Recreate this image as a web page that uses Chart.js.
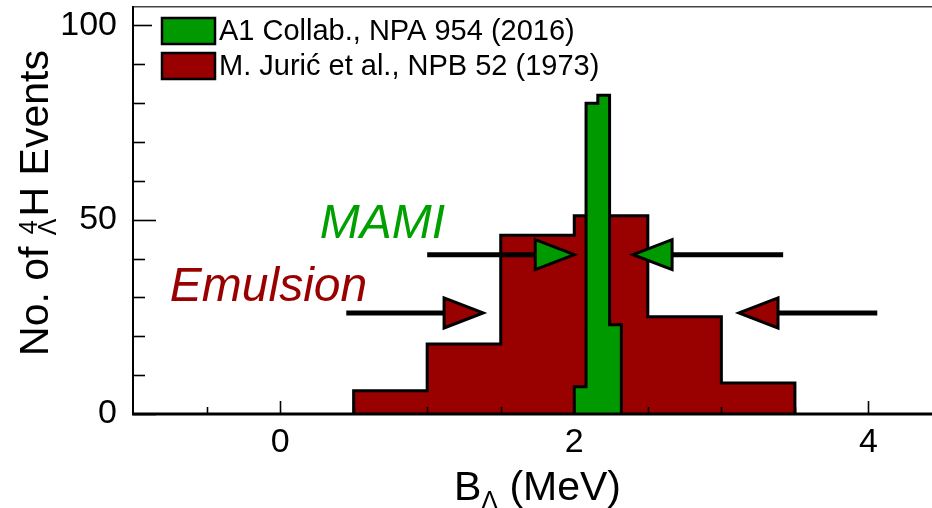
<!DOCTYPE html>
<html>
<head>
<meta charset="utf-8">
<script src="https://cdn.jsdelivr.net/npm/chart.js@4.4.1/dist/chart.umd.min.js"></script>
<style>
  html, body { margin: 0; padding: 0; overflow: hidden; background: #fff; }
  canvas { display: block; }
</style>
</head>
<body>
<canvas id="c" width="944" height="508"></canvas>
<script>
// Λ binding energy of the 4ΛH hypernucleus: MAMI spectrometer vs. emulsion data

const seriesLabels = ['A1 Collab., NPA 954 (2016)', 'M. Juri\u0107 et al., NPB 52 (1973)'];

// MAMI (A1) histogram: bin edges in MeV and counts per bin
const mamiEdges  = [2.00, 2.08, 2.16, 2.24, 2.32];
const mamiCounts = [7, 80, 82, 23];

// Emulsion histogram
const emulsionEdges  = [0.5, 1.0, 1.5, 2.0, 2.5, 3.0, 3.5];
const emulsionCounts = [6, 18, 46, 51, 25, 8];

// Arrows: horizontal level (events), tail and tip positions (MeV)
const mamiArrowLevel = 41;
const mamiArrowTails = [1.00, 3.42];
const mamiArrowTips  = [2.00, 2.40];
const emulsionArrowLevel = 26;
const emulsionArrowTails = [0.45, 4.06];
const emulsionArrowTips  = [1.38, 3.12];

// In-plot labels and their anchor points (MeV, events)
const annotationTexts = ['MAMI', 'Emulsion'];
const annotationX = [0.27, -0.75];
const annotationY = [45.4, 29];

// Axis ticks
const xTickValues  = [-0.5, 0, 0.5, 1, 1.5, 2, 2.5, 3, 3.5, 4];
const xLabelValues = [0, 2, 4];
const yTickValues  = [0, 10, 20, 30, 40, 50, 60, 70, 80, 90, 100];
const yLabelValues = [0, 50, 100];

const GREEN = '#009a00';
const RED = '#990000';
const TEXT_GREEN = '#00a000';
const FONT = '"Liberation Sans", Arial, Helvetica, sans-serif';

// Outline of a histogram as a stepped polyline closed down to zero
function histPoints(edges, counts) {
  const pts = [{ x: edges[0], y: 0 }];
  counts.forEach((c, i) => pts.push({ x: edges[i], y: c }));
  pts.push({ x: edges[edges.length - 1], y: counts[counts.length - 1] });
  pts.push({ x: edges[edges.length - 1], y: 0 });
  return pts;
}

function histDataset(label, edges, counts, color) {
  return {
    label,
    data: histPoints(edges, counts),
    stepped: true,
    fill: 'origin',
    backgroundColor: color,
    borderColor: '#000',
    borderWidth: 3,
    borderJoinStyle: 'miter',
    pointRadius: 0,
    tension: 0
  };
}

function drawArrow(ctx, xs, ys, tail, tip, level, fill) {
  const py = ys.getPixelForValue(level);
  const pTail = xs.getPixelForValue(tail);
  const pTip = xs.getPixelForValue(tip);
  const dir = Math.sign(pTip - pTail);
  const headLen = 39, headHalf = 15;
  const base = pTip - dir * headLen;
  ctx.strokeStyle = '#000';
  ctx.lineWidth = 5;
  ctx.lineCap = 'butt';
  ctx.beginPath();
  ctx.moveTo(pTail, py);
  ctx.lineTo(base, py);
  ctx.stroke();
  ctx.beginPath();
  ctx.moveTo(pTip, py);
  ctx.lineTo(base, py - headHalf);
  ctx.lineTo(base, py + headHalf);
  ctx.closePath();
  ctx.fillStyle = fill;
  ctx.fill();
  ctx.lineWidth = 3;
  ctx.lineJoin = 'miter';
  ctx.stroke();
}

const decor = {
  id: 'decor',
  afterDatasetsDraw(chart) {
    const { ctx, chartArea: a, scales: { x, y } } = chart;
    ctx.save();

    // tick marks pointing into the frame
    ctx.strokeStyle = '#000';
    ctx.lineWidth = 1.6;
    x.ticks.forEach(t => {
      const px = Math.round(x.getPixelForValue(t.value)) + 0.5;
      const len = xLabelValues.includes(t.value) ? 13 : 7;
      ctx.beginPath();
      ctx.moveTo(px, a.bottom);
      ctx.lineTo(px, a.bottom - len);
      ctx.stroke();
    });
    y.ticks.forEach(t => {
      const py = Math.round(y.getPixelForValue(t.value)) + 0.5;
      const len = yLabelValues.includes(t.value) ? 23 : 12;
      ctx.beginPath();
      ctx.moveTo(a.left, py);
      ctx.lineTo(a.left + len, py);
      ctx.stroke();
    });

    // arrows
    mamiArrowTails.forEach((t, i) => drawArrow(ctx, x, y, t, mamiArrowTips[i], mamiArrowLevel, GREEN));
    emulsionArrowTails.forEach((t, i) => drawArrow(ctx, x, y, t, emulsionArrowTips[i], emulsionArrowLevel, RED));

    // in-plot labels
    ctx.font = 'italic 48px ' + FONT;
    ctx.textAlign = 'left';
    ctx.textBaseline = 'alphabetic';
    const textColors = [TEXT_GREEN, RED];
    annotationTexts.forEach((s, i) => {
      ctx.fillStyle = textColors[i];
      ctx.fillText(s, x.getPixelForValue(annotationX[i]), y.getPixelForValue(annotationY[i]));
    });

    // frame
    ctx.strokeStyle = '#444';
    ctx.lineWidth = 1.5;
    ctx.beginPath();
    ctx.moveTo(a.left, a.top + 0.75);
    ctx.lineTo(a.right, a.top + 0.75);
    ctx.stroke();
    ctx.strokeStyle = '#000';
    ctx.lineWidth = 2;
    ctx.beginPath();
    ctx.moveTo(a.left, a.top);
    ctx.lineTo(a.left, a.bottom);
    ctx.stroke();
    ctx.lineWidth = 3;
    ctx.beginPath();
    ctx.moveTo(a.left - 1, a.bottom);
    ctx.lineTo(a.right, a.bottom);
    ctx.stroke();

    // legend
    ctx.fillStyle = '#fff';
    ctx.fillRect(a.left + 19, a.top + 2, 480, 82);
    ctx.font = '29px ' + FONT;
    ctx.textBaseline = 'middle';
    chart.data.datasets.slice(0, 2).forEach((ds, i) => {
      const bx = a.left + 29, by = a.top + 12 + i * 35;
      ctx.fillStyle = ds.backgroundColor;
      ctx.fillRect(bx, by, 53, 26);
      ctx.strokeStyle = '#000';
      ctx.lineWidth = 2.5;
      ctx.strokeRect(bx, by, 53, 26);
      ctx.fillStyle = '#000';
      ctx.fillText(ds.label, bx + 57, by + 14);
    });
    ctx.restore();
  },
  afterDraw(chart) {
    const { ctx, chartArea: a } = chart;
    ctx.save();
    ctx.fillStyle = '#000';
    ctx.textBaseline = 'alphabetic';
    ctx.textAlign = 'left';
    const big = '41px ' + FONT, small = '25px ' + FONT;

    // x axis title: B with subscript Λ, then the unit
    ctx.font = big;
    const wB = ctx.measureText('B').width;
    const wUnit = ctx.measureText(' (MeV)').width;
    ctx.font = small;
    const wL = ctx.measureText('\u039B').width;
    const totalX = wB + wL + wUnit;
    let cx = (a.left + a.right) / 2 - totalX / 2;
    const baseX = 500;
    ctx.font = big; ctx.fillText('B', cx, baseX); cx += wB;
    ctx.font = small; ctx.fillText('\u039B', cx, baseX + 9); cx += wL;
    ctx.font = big; ctx.fillText(' (MeV)', cx, baseX);

    // y axis title, rotated: "No. of" + 4 over Λ + "H Events"
    ctx.font = big;
    const w1 = ctx.measureText('No. of ').width;
    const w3 = ctx.measureText('H Events').width;
    ctx.font = small;
    const w2 = Math.max(ctx.measureText('4').width, ctx.measureText('\u039B').width) + 2;
    const totalY = w1 + w2 + w3;
    ctx.translate(48, 203);
    ctx.rotate(-Math.PI / 2);
    let tx = -totalY / 2;
    ctx.font = big; ctx.fillText('No. of ', tx, 0); tx += w1;
    ctx.font = small;
    ctx.fillText('4', tx + 1, -11);
    ctx.fillText('\u039B', tx, 8);
    tx += w2;
    ctx.font = big; ctx.fillText('H Events', tx, 0);
    ctx.restore();
  }
};

new Chart(document.getElementById('c'), {
  type: 'line',
  data: {
    datasets: [
      histDataset(seriesLabels[0], mamiEdges, mamiCounts, GREEN),
      histDataset(seriesLabels[1], emulsionEdges, emulsionCounts, RED)
    ]
  },
  options: {
    responsive: false,
    animation: false,
    events: [],
    layout: { padding: { left: 0, top: 6, right: 2, bottom: 0 } },
    scales: {
      x: {
        type: 'linear',
        min: -1,
        max: 4.5,
        afterBuildTicks(s) { s.ticks = xTickValues.map(v => ({ value: v })); },
        afterFit(s) { s.height = 94; s.paddingLeft = 0; s.paddingRight = 0; },
        grid: { display: false, drawTicks: false },
        border: { display: false },
        ticks: {
          autoSkip: false,
          maxRotation: 0,
          padding: 8,
          color: '#000',
          font: { family: FONT, size: 34 },
          callback: v => (xLabelValues.includes(v) ? String(v) : '')
        }
      },
      y: {
        type: 'linear',
        min: 0,
        max: 105,
        afterBuildTicks(s) { s.ticks = yTickValues.map(v => ({ value: v })); },
        afterFit(s) { s.width = 133; s.paddingTop = 0; s.paddingBottom = 0; },
        grid: { display: false, drawTicks: false },
        border: { display: false },
        ticks: {
          autoSkip: false,
          padding: 16,
          color: '#000',
          font: { family: FONT, size: 34 },
          callback: v => (yLabelValues.includes(v) ? String(v) : '')
        }
      }
    },
    plugins: {
      legend: { display: false },
      tooltip: { enabled: false }
    }
  },
  plugins: [decor]
});
</script>
</body>
</html>
